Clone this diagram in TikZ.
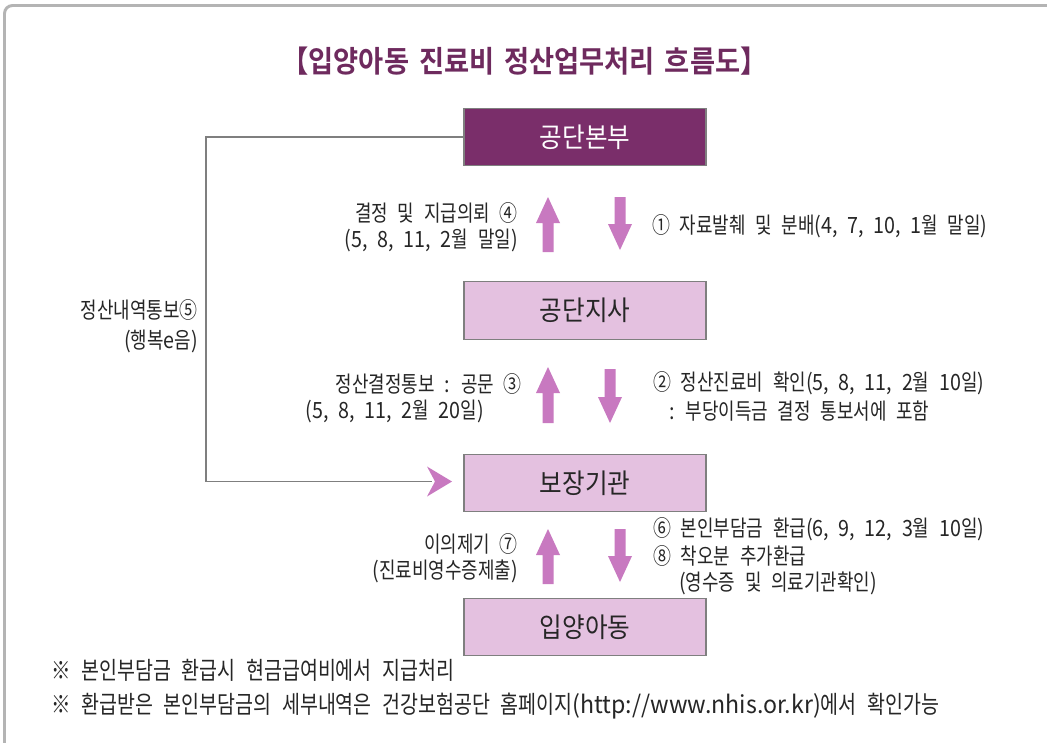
\documentclass[tikz,border=0pt]{standalone}
\usepackage{fontspec}
\setmainfont[FakeStretch=0.8,WordSpace=2.42]{Noto Sans CJK KR}
\newfontfamily\hgfont[FakeStretch=0.8,WordSpace=2.42]{Noto Sans CJK KR}
\newfontfamily\ltfont[FakeStretch=0.88,WordSpace=2.2]{Noto Sans CJK KR}
\newfontfamily\webfont[FakeStretch=0.95]{Noto Sans CJK KR}
\newfontfamily\boxfont[FakeStretch=0.9]{Noto Sans CJK KR}
\newfontfamily\titlefont[FakeStretch=0.91,WordSpace=1.6]{Noto Sans CJK KR Bold}
\newcommand\lt[1]{{\ltfont #1}}
\newcommand\web[1]{{\webfont #1}}
\definecolor{darkplum}{HTML}{7A2E6A}
\definecolor{titleplum}{HTML}{6E2A5E}
\definecolor{lightplum}{HTML}{E4C1E0}
\definecolor{arrowplum}{HTML}{C879C0}
\definecolor{framegray}{HTML}{B4B4B4}
\definecolor{linegray}{HTML}{7F7F7F}
\tikzset{
  box/.style={draw=linegray, line width=0.9pt, minimum width=181.5pt, minimum height=43pt, inner sep=0pt, font=\boxfont\fontsize{20.5pt}{24pt}\selectfont},
  mainbox/.style={box, fill=darkplum, text=white},
  subbox/.style={box, fill=lightplum, text=black!85},
  lbl/.style={inner sep=0pt, font=\hgfont\fontsize{16.8pt}{20pt}\selectfont, text=black!85},
  note/.style={inner sep=0pt, font=\hgfont\fontsize{18.3pt}{22pt}\selectfont, text=black!85},
  conn/.style={draw=linegray, line width=0.8pt}
}
\newcommand\blkup[3]{% x, top y, bottom y
  \fill[arrowplum] (#1-5.5,#3) -- (#1-5.5,#2+26) -- (#1-12,#2+26) -- (#1,#2) -- (#1+12,#2+26) -- (#1+5.5,#2+26) -- (#1+5.5,#3) -- cycle;}
\newcommand\blkdown[3]{% x, top y, bottom y
  \fill[arrowplum] (#1-5.5,#2) -- (#1-5.5,#3-26) -- (#1-12,#3-26) -- (#1,#3) -- (#1+12,#3-26) -- (#1+5.5,#3-26) -- (#1+5.5,#2) -- cycle;}
\begin{document}
\begin{tikzpicture}[x=0.75pt,y=-0.75pt]
\useasboundingbox (0,0) rectangle (1047,743);
\fill[white] (0,0) rectangle (1047,743);
% frame
\begin{scope}
\clip (0,0) rectangle (1047,743);
\draw[framegray, line width=2.2pt, rounded corners=6pt] (4.5,800) -- (4.5,5.5) -- (1100,5.5);
\end{scope}
% title
\node[inner sep=0pt, text=titleplum, font=\titlefont\fontsize{22.5pt}{26pt}\selectfont] (title) at (524.5,61) {【입양아동 진료비 정산업무처리 흐름도】};
% boxes
\node[mainbox] (hq) at (585,137) {공단본부};
\node[subbox] (branch) at (585,310.5) {공단지사};
\node[subbox] (agency) at (585,483) {보장기관};
\node[subbox] (child) at (585,627) {입양아동};
% block arrows
\blkup{548}{197}{252}
\blkdown{620}{197}{250}
\blkup{548}{367}{423}
\blkdown{610}{369}{423}
\blkup{548}{529}{584}
\blkdown{620}{529}{582}
% left connector
\coordinate (tipin) at (452,481.5);
\draw[conn] (hq.west) -- (206,137) |- (432,481.5);
\fill[arrowplum] (tipin) -- (427,466.5) -- (435,481.5) -- (427,496.5) -- cycle;
% labels
\node[lbl, anchor=east] (l4a) at (518,213) {결정 및 지급의뢰 ④};
\node[lbl, anchor=east] (l4b) at (518,240) {\lt{(5, 8, 11, 2}월 말일\lt{)}};
\node[lbl, anchor=west] (l1) at (652,226) {① 자료발췌 및 분배\lt{(4, 7, 10, 1}월 말일\lt{)}};
\node[lbl, anchor=east] (l5a) at (198,310) {정산내역통보⑤};
\node[lbl, anchor=east] (l5b) at (198,341) {\lt{(}행복\lt{e}음\lt{)}};
\node[lbl, anchor=east] (l3a) at (522,384) {정산결정통보 \lt{:} 공문 ③};
\node[lbl, anchor=east] (l3b) at (484,411) {\lt{(5, 8, 11, 2}월 \lt{20}일\lt{)}};
\node[lbl, anchor=west] (l2a) at (653,383) {② 정산진료비 확인\lt{(5, 8, 11, 2}월 \lt{10}일\lt{)}};
\node[lbl, anchor=west] (l2b) at (669,411) {\lt{:} 부당이득금 결정 통보서에 포함};
\node[lbl, anchor=east] (l7a) at (518,544) {이의제기 ⑦};
\node[lbl, anchor=east] (l7b) at (518,571) {\lt{(}진료비영수증제출\lt{)}};
\node[lbl, anchor=west] (l6) at (653,529) {⑥ 본인부담금 환급\lt{(6, 9, 12, 3}월 \lt{10}일\lt{)}};
\node[lbl, anchor=west] (l8a) at (653,556) {⑧ 착오분 추가환급};
\node[lbl, anchor=west] (l8b) at (679,583) {\lt{(}영수증 및 의료기관확인\lt{)}};
\node[note, anchor=west] (n1) at (51,670) {※ 본인부담금 환급시 현금급여비에서 지급처리};
\node[note, anchor=west] (n2) at (51,706) {※ 환급받은 본인부담금의 세부내역은 건강보험공단 홈페이지\web{(http://www.nhis.or.kr)}에서 확인가능};
\end{tikzpicture}
\end{document}
